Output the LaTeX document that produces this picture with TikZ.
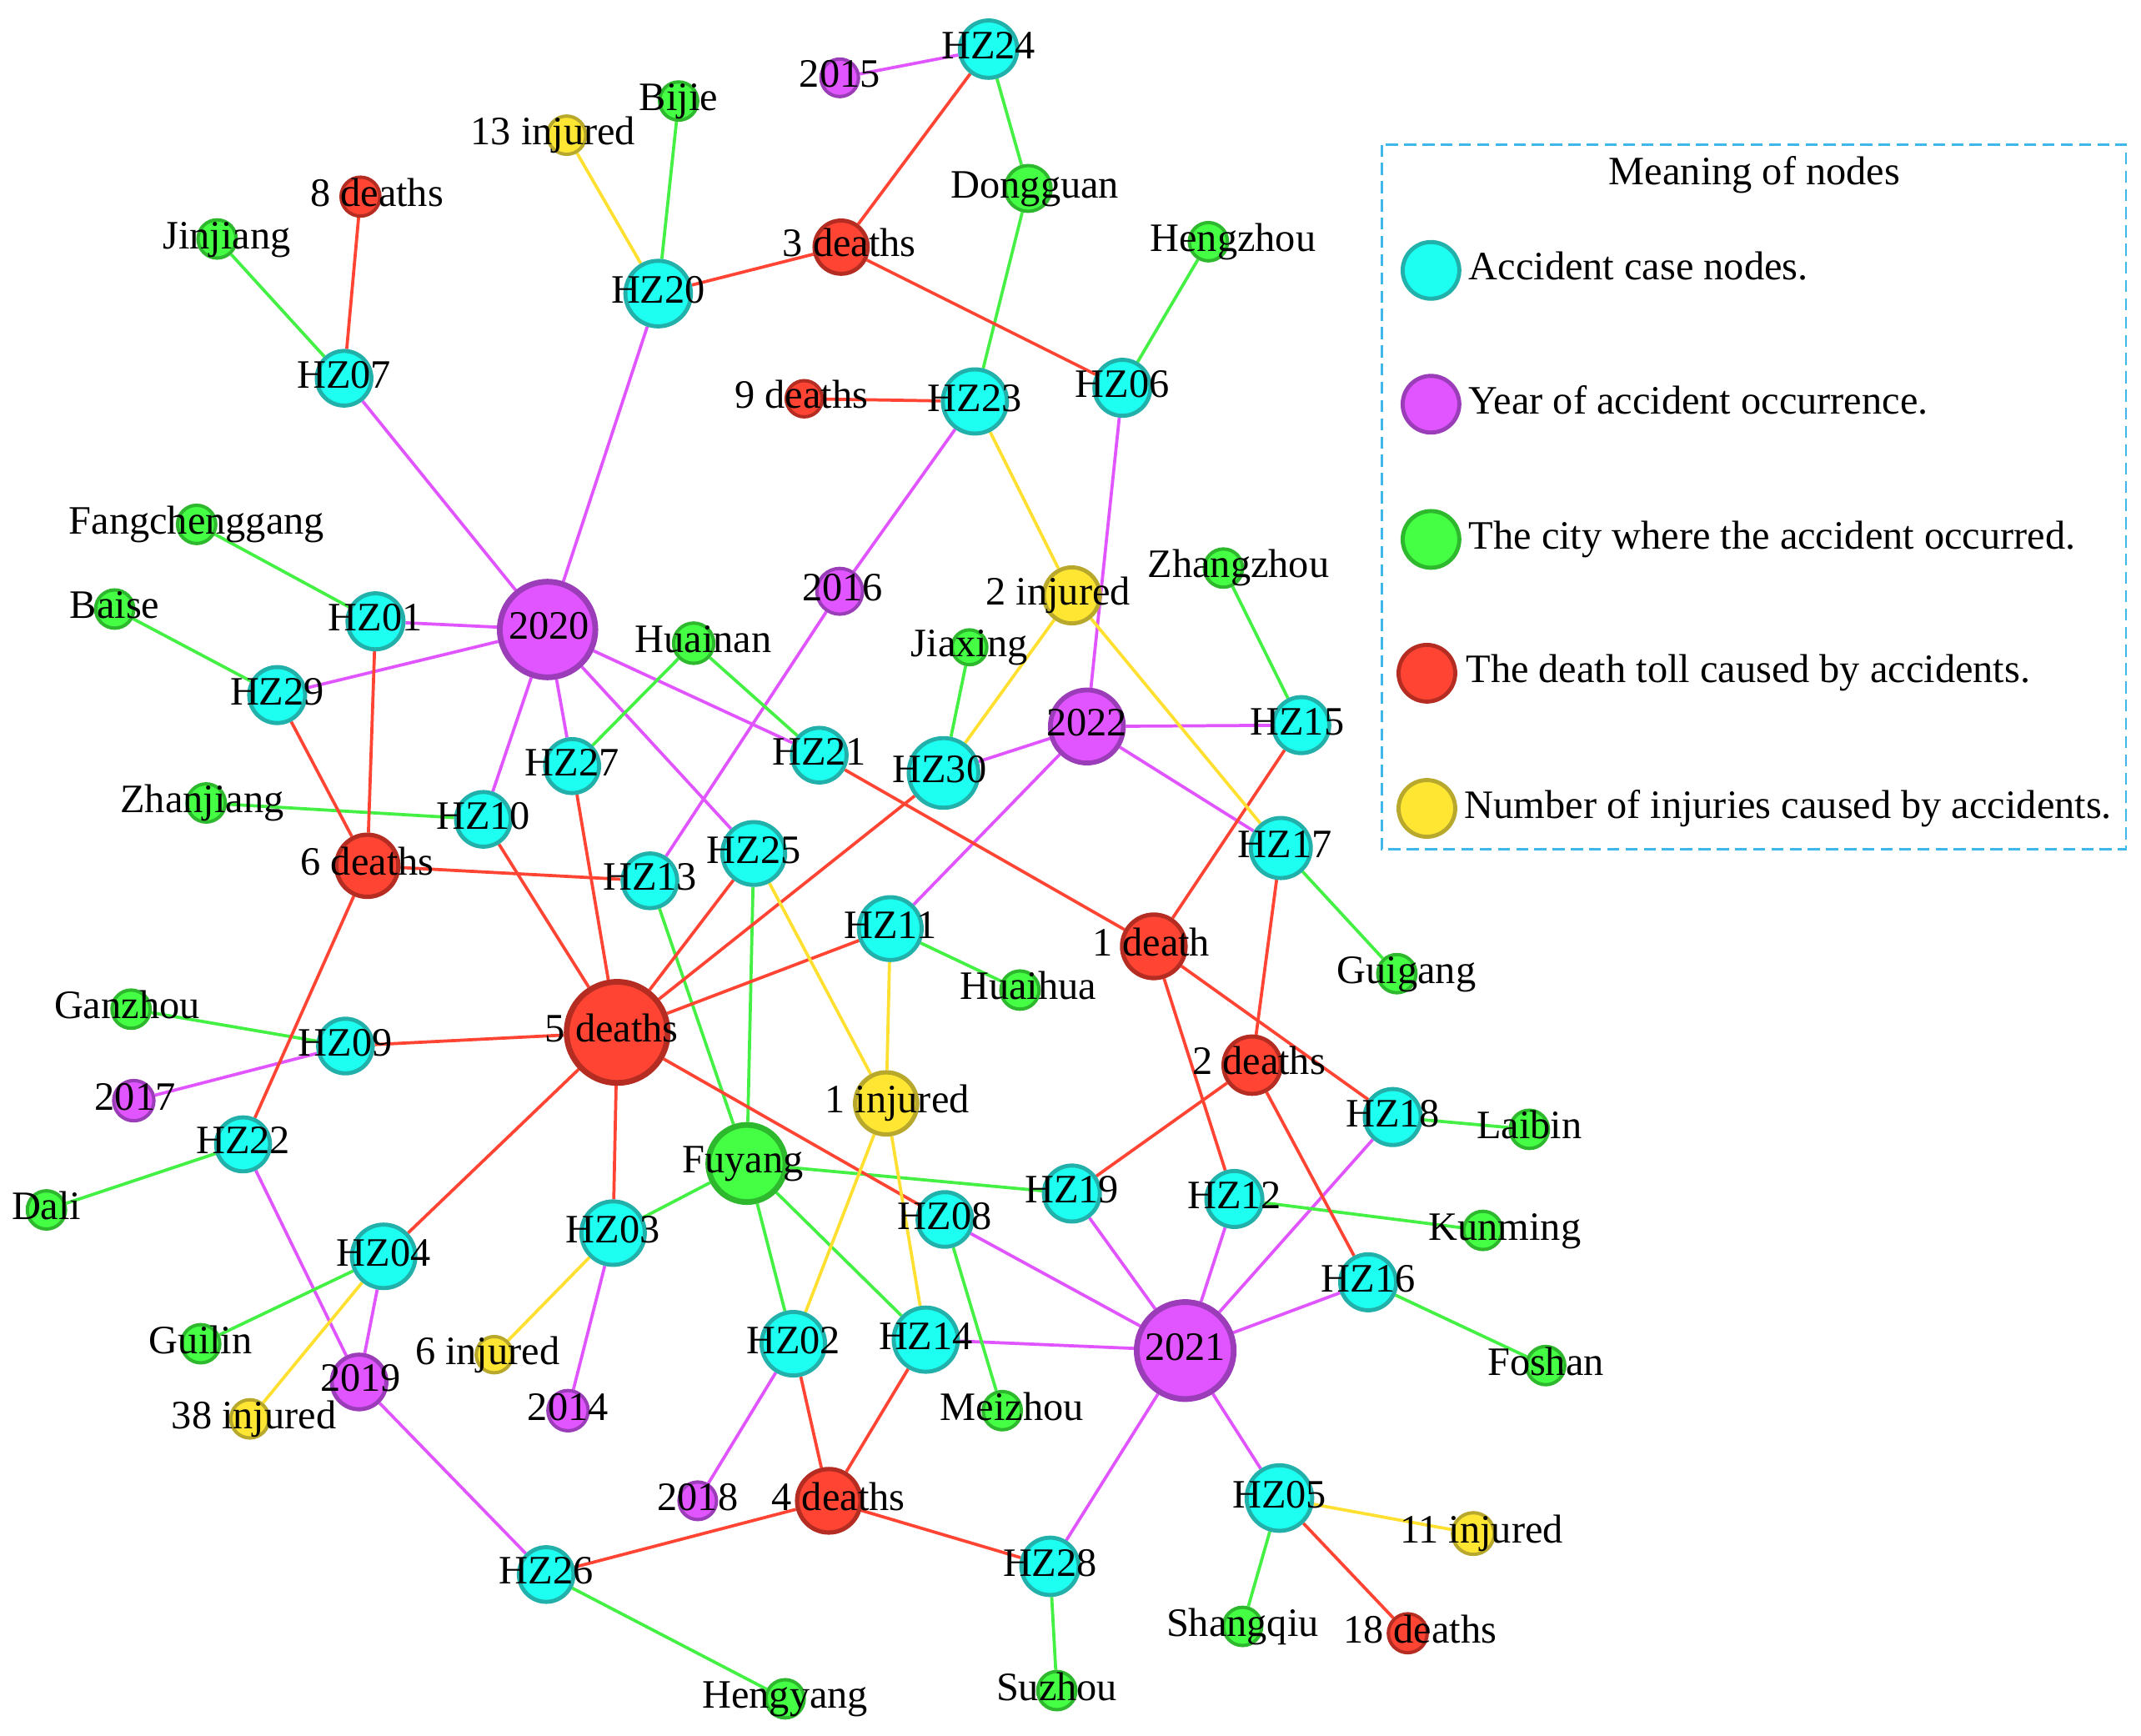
\documentclass[tikz,border=0pt]{standalone}
\usepackage{fontspec}
\setmainfont{Liberation Serif}
\pgfdeclarelayer{edges}
\pgfsetlayers{edges,main}
\definecolor{casefill}{HTML}{1DFFF0}
\definecolor{casedraw}{HTML}{22B0AA}
\definecolor{yearfill}{HTML}{E055FF}
\definecolor{yeardraw}{HTML}{9B3DB8}
\definecolor{cityfill}{HTML}{44FF44}
\definecolor{citydraw}{HTML}{2DB82D}
\definecolor{deathfill}{HTML}{FF4433}
\definecolor{deathdraw}{HTML}{B52D22}
\definecolor{injfill}{HTML}{FFE633}
\definecolor{injdraw}{HTML}{B8A82C}
\definecolor{yearline}{HTML}{E055FF}
\definecolor{cityline}{HTML}{44F044}
\definecolor{deathline}{HTML}{FF4433}
\definecolor{injline}{HTML}{FFE030}
\definecolor{legendline}{HTML}{3DB8E8}
\tikzset{
  vtx/.style={circle,inner sep=0pt,line width=0.7pt},
  case/.style={vtx,fill=casefill,draw=casedraw,line width=0.85pt,minimum size=0.41cm},
  year/.style={vtx,fill=yearfill,draw=yeardraw,minimum size=0.28cm},
  city/.style={vtx,fill=cityfill,draw=citydraw,minimum size=0.28cm},
  death/.style={vtx,fill=deathfill,draw=deathdraw,minimum size=0.28cm},
  injury/.style={vtx,fill=injfill,draw=injdraw,minimum size=0.28cm},
  big/.style={line width=1.2pt},
  sz/.style={minimum size=#1},
  lbl/.style={font=\fontsize{8.4}{10}\selectfont,inner sep=0pt,text height=0.66em,text depth=0pt,yshift=1.3pt},
  toyear/.style={draw=yearline,line width=0.65pt},
  tocity/.style={draw=cityline,line width=0.65pt},
  todeath/.style={draw=deathline,line width=0.65pt},
  toinjury/.style={draw=injline,line width=0.65pt}
}

\begin{document}
\begin{tikzpicture}[x=1cm,y=-1cm]
  \useasboundingbox (0,0) rectangle (15.68,12.71);

  % accident cases
  \node[case] (hz01) at (2.75,4.55) {};
  \node[case,sz=0.465cm] (hz02) at (5.81,9.84) {};
  \node[case,sz=0.465cm] (hz03) at (4.49,9.03) {};
  \node[case,sz=0.465cm] (hz04) at (2.81,9.20) {};
  \node[case,sz=0.48cm] (hz05) at (9.37,10.97) {};
  \node[case] (hz06) at (8.22,2.84) {};
  \node[case,sz=0.40cm] (hz07) at (2.52,2.77) {};
  \node[case,sz=0.40cm] (hz08) at (6.92,8.93) {};
  \node[case,sz=0.40cm] (hz09) at (2.53,7.66) {};
  \node[case,sz=0.40cm] (hz10) at (3.54,6.00) {};
  \node[case,sz=0.46cm] (hz11) at (6.52,6.80) {};
  \node[case] (hz12) at (9.04,8.78) {};
  \node[case,sz=0.40cm] (hz13) at (4.76,6.45) {};
  \node[case,sz=0.47cm] (hz14) at (6.78,9.81) {};
  \node[case] (hz15) at (9.53,5.31) {};
  \node[case] (hz16) at (10.02,9.39) {};
  \node[case,sz=0.44cm] (hz17) at (9.38,6.21) {};
  \node[case] (hz18) at (10.20,8.18) {};
  \node[case] (hz19) at (7.85,8.74) {};
  \node[case,sz=0.48cm] (hz20) at (4.82,2.15) {};
  \node[case,sz=0.40cm] (hz21) at (6.00,5.53) {};
  \node[case,sz=0.395cm] (hz22) at (1.78,8.38) {};
  \node[case,sz=0.47cm] (hz23) at (7.14,2.94) {};
  \node[case,sz=0.42cm] (hz24) at (7.24,0.36) {};
  \node[case,sz=0.46cm] (hz25) at (5.52,6.25) {};
  \node[case,sz=0.40cm] (hz26) at (4.00,11.53) {};
  \node[case,sz=0.395cm] (hz27) at (4.19,5.61) {};
  \node[case,sz=0.42cm] (hz28) at (7.69,11.47) {};
  \node[case] (hz29) at (2.03,5.09) {};
  \node[case,sz=0.51cm] (hz30) at (6.91,5.66) {};

  % years
  \node[year,sz=0.295cm] (y2014) at (4.16,10.33) {};
  \node[year,sz=0.275cm] (y2015) at (6.15,0.57) {};
  \node[year,sz=0.335cm] (y2016) at (6.15,4.33) {};
  \node[year,sz=0.295cm] (y2017) at (0.98,8.06) {};
  \node[year,sz=0.275cm] (y2018) at (5.11,10.99) {};
  \node[year,line width=0.85pt,sz=0.40cm] (y2019) at (2.63,10.12) {};
  \node[year,big,sz=0.70cm] (y2020) at (4.01,4.61) {};
  \node[year,big,sz=0.71cm] (y2021) at (8.68,9.89) {};
  \node[year,line width=1pt,sz=0.535cm] (y2022) at (7.96,5.32) {};

  % cities
  \node[city] (bijie) at (4.97,0.74) {};
  \node[city] (jinjiang) at (1.59,1.75) {};
  \node[city,sz=0.335cm] (dongguan) at (7.53,1.38) {};
  \node[city] (hengzhou) at (8.85,1.77) {};
  \node[city] (fangchenggang) at (1.44,3.84) {};
  \node[city] (baise) at (0.84,4.46) {};
  \node[city,sz=0.295cm] (huainan) at (5.08,4.71) {};
  \node[city,sz=0.255cm] (jiaxing) at (7.10,4.74) {};
  \node[city] (zhangzhou) at (8.96,4.16) {};
  \node[city] (zhanjiang) at (1.51,5.88) {};
  \node[city] (huaihua) at (7.47,7.25) {};
  \node[city] (guigang) at (10.23,7.13) {};
  \node[city] (ganzhou) at (0.96,7.39) {};
  \node[city] (laibin) at (11.20,8.27) {};
  \node[city] (dali) at (0.34,8.86) {};
  \node[city,big,sz=0.565cm] (fuyang) at (5.47,8.52) {};
  \node[city] (kunming) at (10.86,9.01) {};
  \node[city] (guilin) at (1.47,9.84) {};
  \node[city] (meizhou) at (7.34,10.33) {};
  \node[city] (foshan) at (11.32,10.00) {};
  \node[city] (shangqiu) at (9.10,11.91) {};
  \node[city] (hengyang) at (5.75,12.44) {};
  \node[city] (suzhou) at (7.74,12.38) {};

  % death tolls
  \node[death,sz=0.285cm] (d8) at (2.64,1.44) {};
  \node[death,line width=0.85pt,sz=0.39cm] (d3) at (6.16,1.81) {};
  \node[death,sz=0.265cm] (d9) at (5.89,2.92) {};
  \node[death,line width=0.9pt,sz=0.455cm] (d6) at (2.69,6.34) {};
  \node[death,big,sz=0.74cm] (d5) at (4.52,7.56) {};
  \node[death,line width=0.9pt,sz=0.465cm] (d1) at (8.45,6.93) {};
  \node[death,line width=0.85pt,sz=0.42cm] (d2) at (9.17,7.80) {};
  \node[death,line width=0.9pt,sz=0.465cm] (d4) at (6.07,10.99) {};
  \node[death,sz=0.285cm] (d18) at (10.31,11.96) {};

  % injuries
  \node[injury] (i13) at (4.15,0.99) {};
  \node[injury,line width=0.85pt,sz=0.41cm] (i2) at (7.85,4.36) {};
  \node[injury,line width=0.9pt,sz=0.455cm] (i1) at (6.49,8.08) {};
  \node[injury,sz=0.265cm] (i6) at (3.62,9.92) {};
  \node[injury] (i38) at (1.83,10.39) {};
  \node[injury,sz=0.305cm] (i11) at (10.79,11.23) {};

  \begin{pgfonlayer}{edges}
    \foreach \a/\b in {y2015/hz24,y2020/hz07,y2020/hz20,y2020/hz01,y2020/hz29,y2020/hz10,
        y2020/hz27,y2020/hz25,y2020/hz21,y2016/hz23,y2016/hz13,y2022/hz06,y2022/hz30,
        y2022/hz15,y2022/hz17,y2022/hz11,y2017/hz09,y2019/hz22,y2019/hz04,y2019/hz26,
        y2014/hz03,y2018/hz02,y2021/hz08,y2021/hz19,y2021/hz12,y2021/hz18,y2021/hz16,
        y2021/hz14,y2021/hz05,y2021/hz28}
      \draw[toyear] (\a) -- (\b);
    \foreach \a/\b in {bijie/hz20,jinjiang/hz07,dongguan/hz24,dongguan/hz23,hengzhou/hz06,
        fangchenggang/hz01,baise/hz29,huainan/hz27,huainan/hz21,jiaxing/hz30,zhangzhou/hz15,
        zhanjiang/hz10,huaihua/hz11,guigang/hz17,ganzhou/hz09,laibin/hz18,dali/hz22,
        fuyang/hz13,fuyang/hz25,fuyang/hz03,fuyang/hz19,fuyang/hz02,fuyang/hz14,
        kunming/hz12,guilin/hz04,foshan/hz16,meizhou/hz08,shangqiu/hz05,hengyang/hz26,
        suzhou/hz28}
      \draw[tocity] (\a) -- (\b);
    \foreach \a/\b in {d8/hz07,d3/hz24,d3/hz20,d3/hz06,d9/hz23,d6/hz29,d6/hz01,d6/hz13,
        d6/hz22,d5/hz10,d5/hz27,d5/hz25,d5/hz30,d5/hz11,d5/hz09,d5/hz08,d5/hz03,d5/hz04,
        d1/hz21,d1/hz15,d1/hz18,d1/hz12,d2/hz17,d2/hz19,d2/hz16,d4/hz02,d4/hz14,d4/hz26,
        d4/hz28,d18/hz05}
      \draw[todeath] (\a) -- (\b);
    \foreach \a/\b in {i13/hz20,i2/hz23,i2/hz30,i2/hz17,i1/hz25,i1/hz11,i1/hz02,i1/hz14,
        i6/hz03,i38/hz04,i11/hz05}
      \draw[toinjury] (\a) -- (\b);
  \end{pgfonlayer}

  % labels
  \foreach \n in {01,02,03,04,05,06,07,08,09,10,11,12,13,14,16,18,19,20,21,22,23,24,25,26,27,28,29}
    \node[lbl] (hz\n-t) at (hz\n) {HZ\n};
  \node[lbl,xshift=-0.03cm] (hz15-t) at (hz15) {HZ15};
  \node[lbl,xshift=0.03cm] (hz17-t) at (hz17) {HZ17};
  \node[lbl,xshift=-0.03cm] (hz30-t) at (hz30) {HZ30};
  \foreach \n/\t/\dx in {y2014/2014/0,y2015/2015/0,y2016/2016/0.02,y2017/2017/0.01,
      y2018/2018/0,y2019/2019/0.01,y2020/2020/0.01,y2021/2021/0,y2022/2022/0,
      bijie/Bijie/0,jinjiang/Jinjiang/0.07,dongguan/Dongguan/0.05,hengzhou/Hengzhou/0.18,
      fangchenggang/Fangchenggang/0,baise/Baise/0,huainan/Huainan/0.07,jiaxing/Jiaxing/0,
      zhangzhou/Zhangzhou/0.11,zhanjiang/Zhanjiang/-0.03,huaihua/Huaihua/0.06,
      guigang/Guigang/0.07,ganzhou/Ganzhou/-0.03,laibin/Laibin/0,dali/Dali/0,
      fuyang/Fuyang/-0.03,kunming/Kunming/0.16,guilin/Guilin/0,meizhou/Meizhou/0.07,
      foshan/Foshan/0,shangqiu/Shangqiu/0,hengyang/Hengyang/0,suzhou/Suzhou/0,
      d8/8 deaths/0.12,d3/3 deaths/0.06,d9/9 deaths/-0.02,d6/6 deaths/0,d5/5 deaths/-0.04,
      d1/1 death/-0.02,d2/2 deaths/0.05,d4/4 deaths/0.07,d18/18 deaths/0.09,
      i13/13 injured/-0.10,i2/2 injured/-0.10,i1/1 injured/0.08,i6/6 injured/-0.05,
      i38/38 injured/0.03,i11/11 injured/0.06}
    \node[lbl,xshift=\dx cm] (\n-t) at (\n) {\t};

  % legend
  \draw[legendline,dash pattern=on 2.5pt off 1.3pt,line width=0.5pt] (10.12,1.06) rectangle (15.57,6.22);
  \node[lbl] (legtitle) at (12.85,1.285) {Meaning of nodes};
  \node[case,sz=0.415cm] (lcase) at (10.48,1.98) {};
  \node[year,line width=0.85pt,sz=0.415cm] (lyear) at (10.48,2.96) {};
  \node[city,line width=0.85pt,sz=0.415cm] (lcity) at (10.48,3.95) {};
  \node[death,line width=0.85pt,sz=0.415cm] (ldeath) at (10.45,4.93) {};
  \node[injury,line width=0.85pt,sz=0.415cm] (linjury) at (10.45,5.92) {};
  \node[lbl,anchor=west] (lcase-t) at (10.75,1.98) {Accident case nodes.};
  \node[lbl,anchor=west] (lyear-t) at (10.75,2.96) {Year of accident occurrence.};
  \node[lbl,anchor=west] (lcity-t) at (10.75,3.95) {The city where the accident occurred.};
  \node[lbl,anchor=west] (ldeath-t) at (10.73,4.93) {The death toll caused by accidents.};
  \node[lbl,anchor=west] (linjury-t) at (10.72,5.92) {Number of injuries caused by accidents.};
\end{tikzpicture}
\end{document}
